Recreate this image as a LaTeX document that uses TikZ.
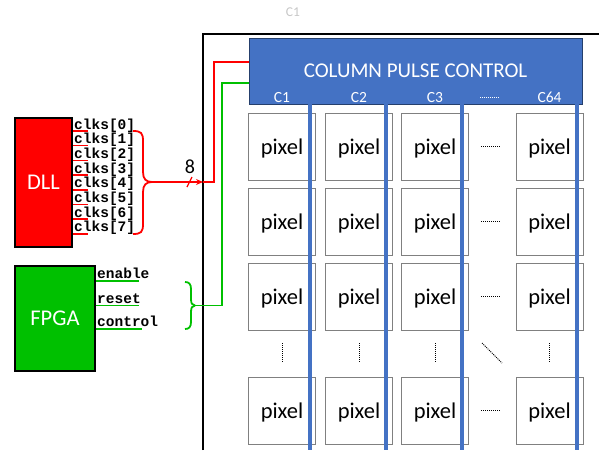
\documentclass[tikz,border=0pt]{standalone}
\usepackage{fontspec}
\setmainfont{Carlito}
\newfontfamily\monof{Liberation Mono}
\usetikzlibrary{arrows.meta,calc}
\definecolor{cpcblue}{HTML}{4472C4}
\definecolor{fpgagreen}{HTML}{00C000}
\definecolor{wirered}{HTML}{FF0000}

\begin{document}
\begin{tikzpicture}[x=1pt,y=-1pt,
  pixelbox/.style={draw=black!50, line width=0.8pt, minimum width=67pt, minimum height=67pt,
    inner sep=0pt, text depth=0pt, font=\fontsize{22.5}{26}\selectfont},
  colbus/.style={draw=cpcblue, line width=4pt},
  redwire/.style={draw=wirered, line width=1.8pt},
  greenwire/.style={draw=fpgagreen, line width=1.8pt},
  sig/.style={font=\monof\bfseries\fontsize{14.5}{16}\selectfont, inner sep=0pt, anchor=base west},
  blockbox/.style={draw=black, line width=1.5pt, text=white, inner sep=0pt,
    font=\fontsize{22.5}{26}\selectfont},
  collabel/.style={text=white, anchor=base, inner sep=0pt, font=\fontsize{15.5}{18}\selectfont},
  dotline/.style={line width=1pt, dash pattern=on 1pt off 1pt},
]
\useasboundingbox (0,0) rectangle (599,450);

% faint label above the array
\node[text=black!22, font=\fontsize{13.5}{16}\selectfont] (ghost) at (293,12) {C1};

% chip outline
\draw[line width=1.3pt] (203,450) -- (203,34) -- (599,34);

% column pulse control block
\node[fill=cpcblue, draw=black!45!cpcblue, line width=0.8pt, minimum width=333pt, minimum height=66pt,
  inner sep=0pt, text=white, font=\fontsize{21}{24}\selectfont] (cpc) at (415.5,71) {COLUMN PULSE CONTROL};
\foreach \x/\t in {282/C1, 359/C2, 435/C3, 549.5/C64}
  \node[collabel] (lab\t) at (\x,102) {\t};
\draw[white, dotline] (480,97) -- (499,97);

% pixel array
\foreach \x [count=\c] in {282, 359, 435, 549.5} {
  \foreach \y [count=\r] in {146.5, 221.5, 296.5, 410.5}
    \node[pixelbox] (p\r\c) at (\x,\y) {pixel};
  \draw[dotline] (\x,343) -- (\x,363);
}
\foreach \y in {146.5, 221.5, 296.5, 410.5}
  \draw[dotline] (481,\y) -- (500,\y);
\draw[dotline] (482,343) -- (502,363);

% column buses
\foreach \x [count=\c] in {309.5, 386, 461.5, 577} {
  \coordinate (bt\c) at (\x,104);
  \coordinate (bb\c) at (\x,450);
  \draw[colbus] (bt\c) -- (bb\c);
}

% DLL block and its clock outputs
\node[blockbox, fill=wirered, minimum width=57pt, minimum height=129pt] (dll) at (43.5,182.5) {DLL};
\foreach \i in {0,...,7} {
  \node[sig] (clk\i) at (74,129+14.7*\i) {clks[\i]};
  \draw[redwire, line width=1.5pt] (clk\i.base west -| dll.east) ++(0,2) -- ++(15,0);
}

% clock bundle brace and bus into the chip
\coordinate (rtip) at (152,182);
\draw[redwire] (133,131) .. controls (141,131) and (143,133) .. (143,141) -- (143,172)
  .. controls (143,179) and (146,182) .. (rtip);
\draw[redwire] (133,234) .. controls (141,234) and (143,232) .. (143,224) -- (143,192)
  .. controls (143,185) and (146,182) .. (rtip);
\coordinate (rin) at (203,182);
\coordinate (rup) at (214,62);
\draw[redwire, -{Stealth[length=7pt,width=6pt]}] (rtip) -- (rin);
\draw[redwire] (rin) -| (rup) -- (rup -| cpc.west);
\draw[wirered, line width=1.2pt] (187,187) -- (192,177);
\node[font=\fontsize{20}{24}\selectfont, inner sep=0pt] (width) at (190,167) {8};

% FPGA block and its control outputs
\node[blockbox, fill=fpgagreen, minimum width=80pt, minimum height=105pt] (fpga) at (55,318.5) {FPGA};
\foreach \n/\t/\y/\l in {en/enable/278.5/43, rs/reset/303/43, ct/control/326.5/46} {
  \node[sig] (\n) at (97,\y) {\t};
  \draw[greenwire, line width=1.5pt] (\n.base west -| fpga.east) ++(0,2.5) -- ++(\l,0);
}

% control brace and line into the chip
\coordinate (gtip) at (195,305.5);
\draw[greenwire] (185,282) .. controls (189,282) and (191,284) .. (191,289) -- (191,299)
  .. controls (191,303) and (192,305.5) .. (gtip);
\draw[greenwire] (185,329) .. controls (189,329) and (191,327) .. (191,322) -- (191,312)
  .. controls (191,308) and (192,305.5) .. (gtip);
\coordinate (gup) at (222,83);
\draw[greenwire] (gtip) -| (gup) -- (gup -| cpc.west);
\end{tikzpicture}
\end{document}
